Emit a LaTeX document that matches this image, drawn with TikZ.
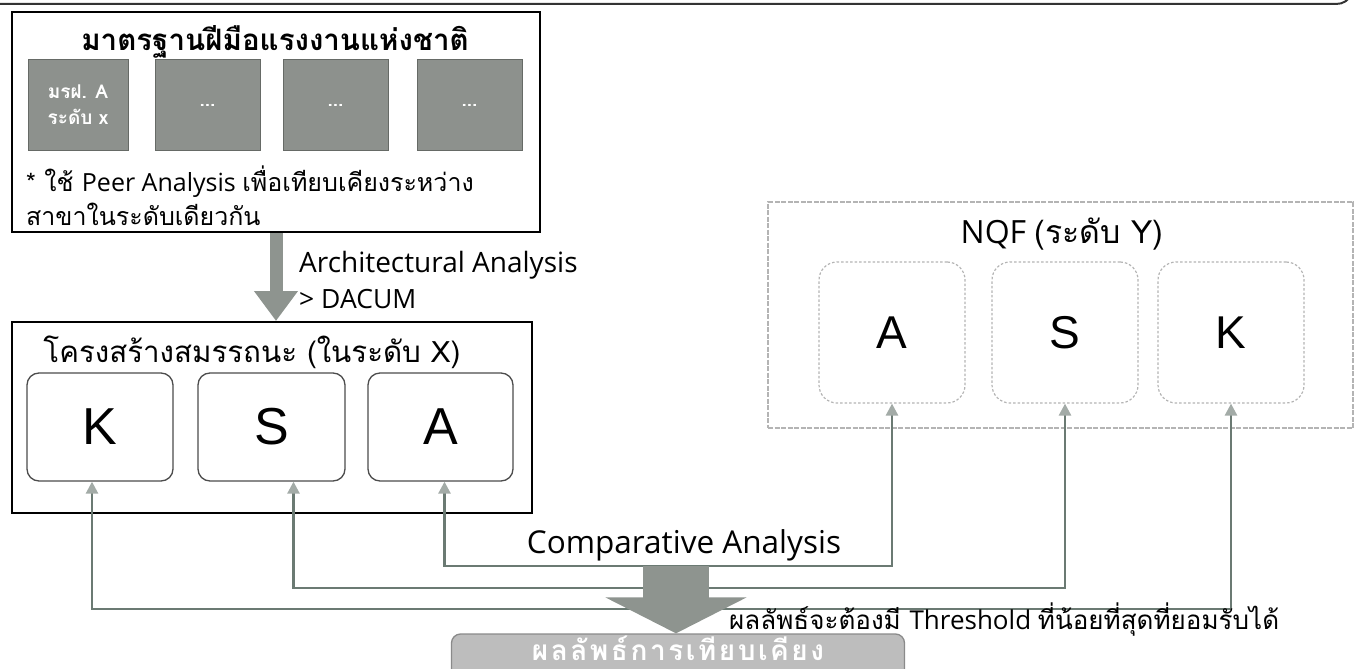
\documentclass[tikz,border=0pt]{standalone}
\usepackage{fontspec}
\setmainfont{Open Sans}
\newfontfamily\thai[Script=Thai]{Loma}
\newfontfamily\arialf{Liberation Sans}
\usetikzlibrary{arrows.meta,calc}
\definecolor{conncol}{HTML}{6B7A73}
\definecolor{tipcol}{HTML}{A3ABA7}
\definecolor{bigcol}{HTML}{8E948F}
\definecolor{tilecol}{HTML}{8D918D}
\definecolor{tileedge}{HTML}{666A66}
\definecolor{resfill}{HTML}{BDBDBD}
\definecolor{resedge}{HTML}{8A8A8A}
\definecolor{nqfedge}{HTML}{B4B4B4}
\begin{document}
\begin{tikzpicture}[x=1pt,y=-1pt,
  frame/.style={draw=black,line width=2pt,inner sep=0pt},
  tile/.style={draw=tileedge,fill=tilecol,line width=1pt,inner sep=0pt,minimum height=90pt,
    text=white,font=\thai\bfseries\fontsize{19}{26}\selectfont,align=center},
  ksa/.style={draw=black!70,line width=1.3pt,rounded corners=12pt,inner sep=0pt,
    minimum width=146pt,minimum height=108pt,font=\arialf\fontsize{52}{52}\selectfont},
  nqfbox/.style={draw=nqfedge,line width=1.3pt,dash pattern=on 5pt off 1.5pt,inner sep=0pt},
  nqfin/.style={draw=nqfedge,line width=1.2pt,dash pattern=on 2.5pt off 2pt,rounded corners=18pt,inner sep=0pt,
    minimum width=146pt,minimum height=141pt,font=\arialf\fontsize{46}{46}\selectfont},
  conn/.style={draw=conncol,line width=2.6pt,
    {Triangle[width=12pt,length=12pt,color=tipcol]}-{Triangle[width=12pt,length=12pt,color=tipcol]}},
  bigarrow/.style={draw=bigcol},
  lbl/.style={inner sep=0pt,anchor=west}
]
\useasboundingbox (0,0) rectangle (1357,669);
% top clipped frame line
\draw[line width=2pt,black!80] (-2,4) -- (1336,4) to[out=0,in=-120] (1352,-6);

% box 1
\node[frame,minimum width=528pt,minimum height=220pt] (box1) at (276,122) {};
\node[inner sep=0pt] (t1) at (275,42) {\thai\bfseries\fontsize{29.5}{32}\selectfont มาตรฐานฝีมือแรงงานแห่งชาติ};
\node[tile,minimum width=100pt] (g1) at (78,105) {มรฝ. A\\ระดับ x};
\node[tile,minimum width=105pt] (g2) at (207.5,105) {...};
\node[tile,minimum width=105pt] (g3) at (335.5,105) {...};
\node[tile,minimum width=105pt] (g4) at (469.5,105) {...};
\node[lbl] (f1) at (26,182) {\fontsize{25}{28}\selectfont\thai * ใช้ \rmfamily Peer Analysis \thai เพื่อเทียบเคียงระหว่าง};
\node[lbl] (f2) at (26,214) {\fontsize{25}{28}\selectfont\thai สาขาในระดับเดียวกัน};

% box 2
\node[frame,minimum width=520pt,minimum height=191pt] (box2) at (272,417.5) {};
\node[inner sep=0pt] (t2) at (252,352) {\thai\fontsize{29.5}{32}\selectfont โครงสร้างสมรรถนะ (ในระดับ X)};
\node[ksa] (K1) at (100,427) {K};
\node[ksa,minimum width=147pt] (S1) at (271.5,427) {S};
\node[ksa,minimum width=145pt] (A1) at (440.5,427) {A};

% architectural arrow
\draw[bigarrow,line width=13pt,-{Triangle[width=42pt,length=30pt]}] (box1.south -| 276,0) -- (box2.north -| 276,0);
\node[lbl] (arch) at (299,265) {\fontsize{28}{30}\selectfont Architectural Analysis};
\node[lbl] (dacum) at (299,299) {\fontsize{26.5}{30}\selectfont > DACUM};

% NQF
\node[nqfbox,minimum width=585pt,minimum height=226pt] (nqf) at (1060.5,315) {};
\node[inner sep=0pt] (t3) at (1062,234) {\fontsize{32}{34}\selectfont NQF \thai(ระดับ Y)};
\node[nqfin] (A2) at (892,332.5) {A};
\node[nqfin] (S2) at (1065,332.5) {S};
\node[nqfin] (K2) at (1231,332.5) {K};

% result
\node[draw=resedge,fill=resfill,line width=1.3pt,rounded corners=9pt,minimum width=453pt,minimum height=44pt,inner sep=0pt] (res) at (678,656) {};
\node[inner sep=0pt,text=white] (rest) at (678,648) {\thai\bfseries\fontsize{28}{30}\selectfont\addfontfeatures{LetterSpace=9}ผลลัพธ์การเทียบเคียง};

% connectors
\coordinate (ya) at (0,566);
\coordinate (ys) at (0,588);
\coordinate (yk) at (0,609);
\draw[conn] ([xshift=4pt]A1.south) |- (ya -| A2.south) -- (A2.south);
\draw[conn] ([xshift=22pt]S1.south) |- (ys -| S2.south) -- (S2.south);
\draw[conn] ([xshift=-8pt]K1.south) |- (yk -| K2.south) -- (K2.south);

% comparative arrow
\coordinate (ctop) at (676,566);
\draw[bigarrow,line width=66pt,-{Triangle[width=140pt,length=36pt]}] (ctop) -- (res.north -| ctop);
\node[inner sep=0pt] (comp) at (684,545) {\fontsize{31.5}{33}\selectfont Comparative Analysis};
\node[lbl] (thr) at (729,620) {\fontsize{26}{29}\selectfont\thai ผลลัพธ์จะต้องมี \rmfamily Threshold \thai ที่น้อยที่สุดที่ยอมรับได้};
\end{tikzpicture}
\end{document}
